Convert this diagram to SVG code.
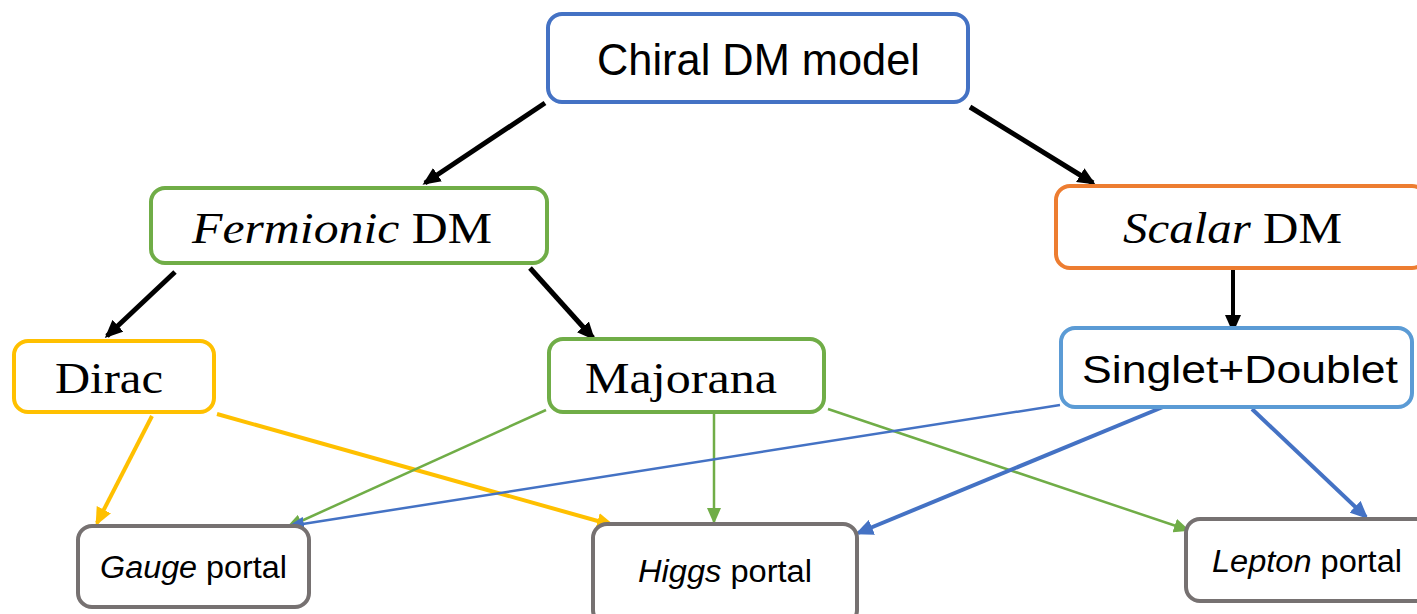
<svg xmlns="http://www.w3.org/2000/svg" width="1417" height="614" viewBox="0 0 1417 614">
<defs>
<style>
.box{fill:#fff;stroke-width:4}
.sans{font-family:"Liberation Sans","Open Sans",sans-serif;fill:#000}
.serif{font-family:"Liberation Serif","DejaVu Serif",serif;fill:#000}
.c{fill:none}
</style>
<marker id="hk" viewBox="0 0 18 16" refX="15" refY="8" markerWidth="18" markerHeight="16" markerUnits="userSpaceOnUse" orient="auto"><path d="M0,0 L18,8 L0,16 z" fill="#000"/></marker>
<marker id="hy" viewBox="0 0 18 16" refX="15" refY="8" markerWidth="18" markerHeight="16" markerUnits="userSpaceOnUse" orient="auto"><path d="M0,0 L18,8 L0,16 z" fill="#FFC000"/></marker>
<marker id="hg" viewBox="0 0 16 14" refX="14" refY="7" markerWidth="16" markerHeight="14" markerUnits="userSpaceOnUse" orient="auto"><path d="M0,0 L16,7 L0,14 z" fill="#70AD47"/></marker>
<marker id="hb" viewBox="0 0 16 14" refX="14" refY="7" markerWidth="16" markerHeight="14" markerUnits="userSpaceOnUse" orient="auto"><path d="M0,0 L16,7 L0,14 z" fill="#4472C4"/></marker>
<marker id="hB" viewBox="0 0 18 16" refX="15" refY="8" markerWidth="18" markerHeight="16" markerUnits="userSpaceOnUse" orient="auto"><path d="M0,0 L18,8 L0,16 z" fill="#4472C4"/></marker>
</defs>
<rect width="1417" height="614" fill="#fff"/>
<g id="connectors" class="c">
<line x1="545" y1="103" x2="425" y2="183" stroke="#000" stroke-width="5" marker-end="url(#hk)"/>
<line x1="970" y1="107" x2="1093" y2="183" stroke="#000" stroke-width="5" marker-end="url(#hk)"/>
<line x1="175" y1="272" x2="107" y2="336" stroke="#000" stroke-width="5" marker-end="url(#hk)"/>
<line x1="530" y1="268" x2="593" y2="338" stroke="#000" stroke-width="5" marker-end="url(#hk)"/>
<line x1="1233" y1="270" x2="1233" y2="330" stroke="#000" stroke-width="4" marker-end="url(#hk)"/>
<line x1="152" y1="416" x2="97" y2="523" stroke="#FFC000" stroke-width="4" marker-end="url(#hy)"/>
<line x1="217" y1="414" x2="612" y2="525" stroke="#FFC000" stroke-width="4" marker-end="url(#hy)"/>
<line x1="546" y1="410" x2="288" y2="527" stroke="#70AD47" stroke-width="2.5" marker-end="url(#hg)"/>
<line x1="714" y1="412" x2="714" y2="522" stroke="#70AD47" stroke-width="2.5" marker-end="url(#hg)"/>
<line x1="828" y1="409" x2="1188" y2="530" stroke="#70AD47" stroke-width="2.5" marker-end="url(#hg)"/>
<line x1="1060" y1="405" x2="290" y2="526" stroke="#4472C4" stroke-width="2.5" marker-end="url(#hb)"/>
<line x1="1163" y1="407" x2="858" y2="533" stroke="#4472C4" stroke-width="4" marker-end="url(#hB)"/>
<line x1="1252" y1="409" x2="1366" y2="517" stroke="#4472C4" stroke-width="4" marker-end="url(#hB)"/>
</g>
<g id="chiral">
<rect class="box" x="548" y="14" width="420" height="88" rx="14" stroke="#4472C4"/>
<text class="sans" x="597" y="75" font-size="44" textLength="323" lengthAdjust="spacingAndGlyphs">Chiral DM model</text>
</g>
<g id="fermionic">
<rect class="box" x="151" y="188" width="396" height="75" rx="14" stroke="#70AD47"/>
<text class="serif" x="192" y="243" font-size="44" textLength="300" lengthAdjust="spacingAndGlyphs"><tspan font-style="italic">Fermionic</tspan> DM</text>
</g>
<g id="scalar">
<rect class="box" x="1056" y="186" width="370" height="82" rx="14" stroke="#ED7D31"/>
<text class="serif" x="1123" y="243" font-size="44" textLength="219" lengthAdjust="spacingAndGlyphs"><tspan font-style="italic">Scalar</tspan> DM</text>
</g>
<g id="dirac">
<rect class="box" x="14" y="341" width="200" height="71" rx="14" stroke="#FFC000"/>
<text class="serif" x="55" y="393" font-size="44" textLength="108" lengthAdjust="spacingAndGlyphs">Dirac</text>
</g>
<g id="majorana">
<rect class="box" x="549" y="339" width="275" height="73" rx="14" stroke="#70AD47"/>
<text class="serif" x="585" y="393" font-size="44" textLength="192" lengthAdjust="spacingAndGlyphs">Majorana</text>
</g>
<g id="singlet">
<rect class="box" x="1061" y="328" width="351" height="79" rx="14" stroke="#5B9BD5"/>
<text class="sans" x="1082" y="383" font-size="39" textLength="316" lengthAdjust="spacingAndGlyphs">Singlet+Doublet</text>
</g>
<g id="gauge">
<rect class="box" x="78" y="526" width="231" height="81" rx="14" stroke="#767171"/>
<text class="sans" x="100" y="578" font-size="31" textLength="187" lengthAdjust="spacingAndGlyphs"><tspan font-style="italic">Gauge</tspan> portal</text>
</g>
<g id="higgs">
<rect class="box" x="593" y="524" width="264" height="100" rx="14" stroke="#767171"/>
<text class="sans" x="638" y="582" font-size="31" textLength="174" lengthAdjust="spacingAndGlyphs"><tspan font-style="italic">Higgs</tspan> portal</text>
</g>
<g id="lepton">
<rect class="box" x="1186" y="519" width="250" height="82" rx="14" stroke="#767171"/>
<text class="sans" x="1212" y="572" font-size="31" textLength="190" lengthAdjust="spacingAndGlyphs"><tspan font-style="italic">Lepton</tspan> portal</text>
</g>
</svg>
